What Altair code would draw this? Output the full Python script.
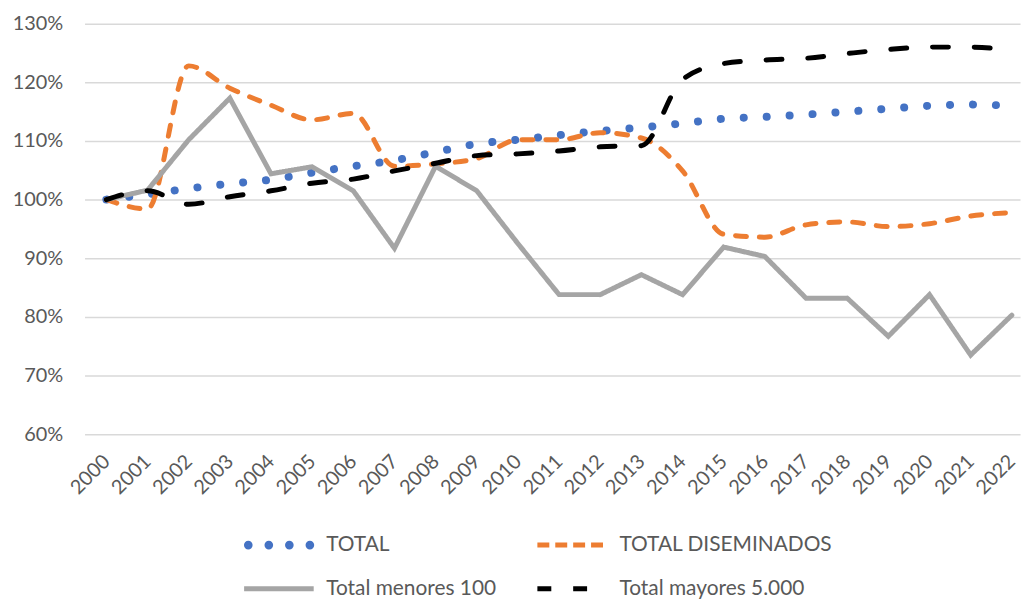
import altair as alt
import pandas as pd

years = list(range(2000, 2023))

series_names = ["TOTAL", "TOTAL DISEMINADOS", "Total menores 100", "Total mayores 5.000"]

total = [100.0, 100.9, 101.9, 102.7, 103.4, 104.6, 105.7, 106.7, 108.1, 109.5, 110.2, 111.0,
         111.7, 112.3, 113.0, 113.8, 114.1, 114.5, 115.0, 115.5, 116.0, 116.2, 116.0]
diseminados = [100.0, 98.4, 122.8, 119.0, 116.1, 113.6, 114.7, 105.7, 106.1, 107.0, 110.2, 110.2,
               111.4, 110.5, 104.9, 94.1, 93.6, 95.7, 96.2, 95.4, 95.9, 97.2, 97.8]
menores100 = [100.0, 101.6, 110.2, 117.3, 104.4, 105.6, 101.5, 91.7, 105.7, 101.5, 92.5, 83.8,
              83.8, 87.2, 83.8, 91.9, 90.3, 83.2, 83.2, 76.7, 83.8, 73.5, 80.3]
mayores5000 = [100.0, 101.5, 99.2, 100.5, 101.5, 102.8, 103.5, 104.9, 106.2, 107.5, 107.8, 108.3,
               109.0, 109.2, 120.5, 123.2, 123.8, 124.1, 124.9, 125.6, 126.0, 126.0, 125.5]

colors = ["#4472C4", "#ED7D31", "#A5A5A5", "#000000"]
dashes = [[0.1, 23], [11, 13], [1, 0], [16, 26]]
widths = [8, 5, 5, 5]
interps = ["monotone", "monotone", "linear", "monotone"]

values = [total, diseminados, menores100, mayores5000]

FONT = "Lato"
LABEL_COLOR = "#595959"

# four dots drawn as tiny stroked circles (unit box -1..1)
r = 0.06
dot_path = " ".join(
    f"M{cx - r:.3f},0 a{r},{r} 0 1,0 {2 * r:.3f},0 a{r},{r} 0 1,0 {-2 * r:.3f},0"
    for cx in [-0.88, -0.29, 0.30, 0.89]
)

legend_symbol = ["dots", "stroke", "stroke", "stroke"]
legend_dash = [None, [12, 6], None, [14, 22]]
legend_pos = [(158, 487), (453, 487), (158, 531), (453, 531)]

x_enc = alt.X("year:Q", scale=alt.Scale(domain=[1999.47, 2022.2], nice=False, zero=False),
              axis=alt.Axis(values=years, format="d", labelAngle=-45, labelAlign="right",
                            labelBaseline="middle", grid=False, ticks=False,
                            domain=False, title=None, labelFont=FONT, labelFontSize=20,
                            labelColor=LABEL_COLOR, labelPadding=24, labelOverlap=False))
y_enc = alt.Y("value:Q", scale=alt.Scale(domain=[0.6, 1.3], nice=False, zero=False),
              axis=alt.Axis(values=[0.6, 0.7, 0.8, 0.9, 1.0, 1.1, 1.2, 1.3], format=".0%",
                            grid=True, gridColor="#D9D9D9", gridWidth=1.5, ticks=False,
                            domain=False, title=None, labelFont=FONT, labelFontSize=20,
                            labelColor=LABEL_COLOR, labelPadding=22))

layers = []
for i, (name, vals) in enumerate(zip(series_names, values)):
    df = pd.DataFrame({"year": years, "value": [v / 100 for v in vals], "serie": name})
    lx, ly = legend_pos[i]
    leg_kwargs = dict(
        title=None, orient="none", legendX=lx, legendY=ly,
        symbolSize=4900, labelFont=FONT, labelFontSize=21, labelColor=LABEL_COLOR,
        labelLimit=400, labelOffset=10,
    )
    if legend_symbol[i] == "dots":
        leg_kwargs.update(symbolType=dot_path, symbolStrokeWidth=4.5, symbolStrokeColor=colors[i])
    else:
        leg_kwargs.update(symbolType="stroke", symbolStrokeWidth=5)
        if legend_dash[i] is not None:
            leg_kwargs.update(symbolDash=legend_dash[i])
    layers.append(
        alt.Chart(df).mark_line(strokeWidth=widths[i], strokeCap="round", interpolate=interps[i],
                                strokeDash=dashes[i]).encode(
            x=x_enc, y=y_enc,
            color=alt.Color("serie:N", scale=alt.Scale(domain=[name], range=[colors[i]]),
                            legend=alt.Legend(**leg_kwargs)),
        )
    )

chart = (
    alt.layer(*layers)
    .resolve_scale(color="independent")
    .properties(width=941, height=413, padding={"left": 4, "top": 4, "right": 0, "bottom": 0})
    .configure_view(stroke=None)
)

chart.save("out.html", embed_options={"renderer": "svg", "actions": False})
